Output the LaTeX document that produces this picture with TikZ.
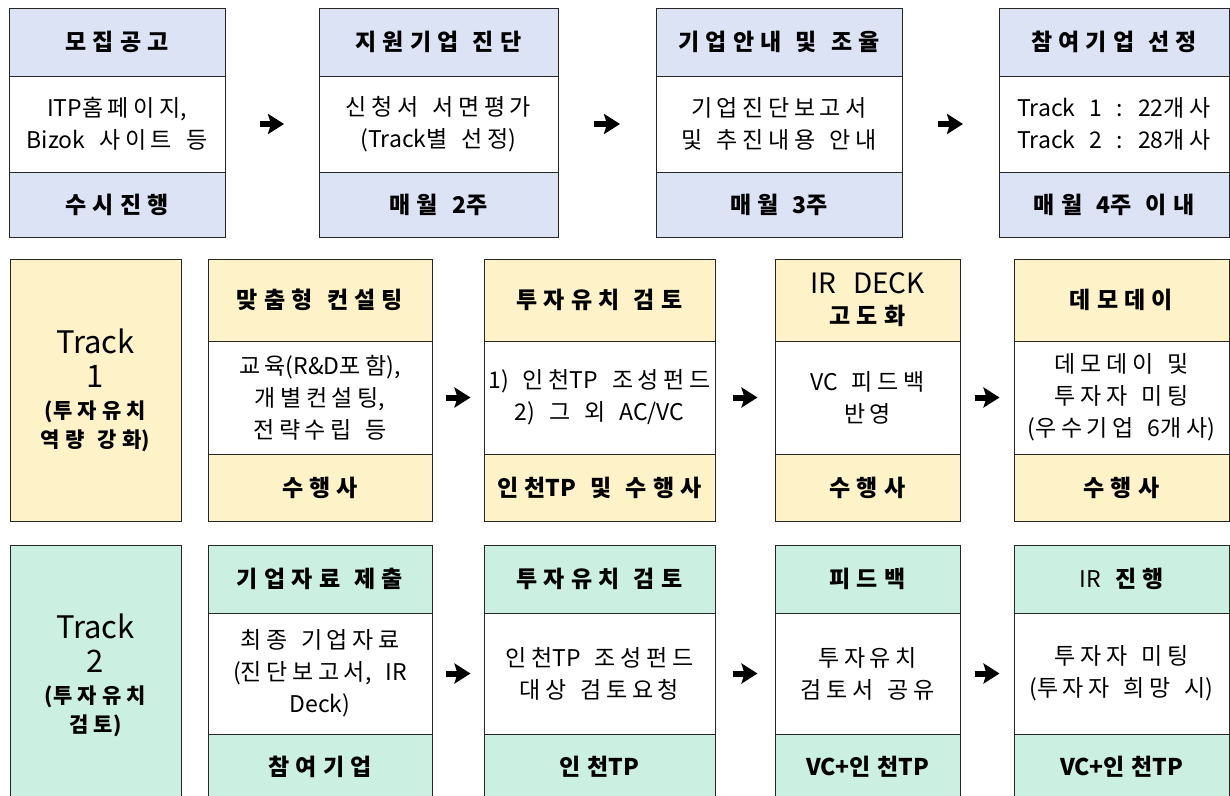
\documentclass[tikz,border=0pt]{standalone}
\usepackage{fontspec}
\setmainfont{Noto Sans CJK KR}[WordSpace=2.7]
% 한글 글자 사이 간격
\newXeTeXintercharclass\hangulclass
\newcount\hcode
\hcode="AC00
\loop
  \XeTeXcharclass\hcode=\hangulclass
  \ifnum\hcode<"D7A3 \advance\hcode by 1
\repeat
\newcommand{\hangulgap}{0.2em}
\XeTeXinterchartoks\hangulclass\hangulclass={\kern\hangulgap}
\XeTeXinterchartokenstate=1
\usepackage{tikz}
\usetikzlibrary{arrows.meta,positioning}
\usepackage{xcolor}
\definecolor{planblue}{HTML}{DCE3F5}
\definecolor{trackone}{HTML}{FEF2C9}
\definecolor{tracktwo}{HTML}{CBEFE0}

\begin{document}
\begin{tikzpicture}[x=1pt, y=-1pt,
    cell/.style={rectangle, draw=black!85, line width=0.9pt, inner sep=0pt, outer sep=0pt, align=center, font=\fontsize{23}{32}\selectfont},
    head/.style={cell, fill=#1, font=\renewcommand{\hangulgap}{0.27em}\bfseries\fontsize{23}{31}\selectfont},
    body/.style={cell, fill=white},
    track/.style={cell, fill=#1, font=\renewcommand{\hangulgap}{0.25em}\fontsize{31}{34}\selectfont},
    flow/.style={-{Stealth[length=16pt, width=20pt, inset=3pt]}, line width=6pt, shorten <=#1, shorten >=#1},
]
    \useasboundingbox (0, 0) rectangle (1230, 795);

    % 1단계: 모집 ~ 선정
    \node[head=planblue, minimum width=216pt, minimum height=68pt] (p1h) at (117, 42) {모집공고};
    \node[body, minimum width=216pt, minimum height=96pt, below=0pt of p1h] (p1b) {ITP홈페이지,\\Bizok 사이트 등};
    \node[head=planblue, minimum width=216pt, minimum height=65pt, below=0pt of p1b] (p1f) {수시진행};

    \node[head=planblue, minimum width=239pt, minimum height=68pt] (p2h) at (438.5, 42) {지원기업 진단};
    \node[body, minimum width=239pt, minimum height=96pt, below=0pt of p2h] (p2b) {신청서 서면평가\\(Track별 선정)};
    \node[head=planblue, minimum width=239pt, minimum height=65pt, below=0pt of p2b] (p2f) {매월 2주};

    \node[head=planblue, minimum width=246pt, minimum height=68pt] (p3h) at (779, 42) {기업안내 및 조율};
    \node[body, minimum width=246pt, minimum height=96pt, below=0pt of p3h] (p3b) {기업진단보고서\\및 추진내용 안내};
    \node[head=planblue, minimum width=246pt, minimum height=65pt, below=0pt of p3b] (p3f) {매월 3주};

    \node[head=planblue, minimum width=230pt, minimum height=68pt] (p4h) at (1114, 42) {참여기업 선정};
    \node[body, minimum width=230pt, minimum height=96pt, below=0pt of p4h] (p4b) {Track 1 : 22개사\\Track 2 : 28개사};
    \node[head=planblue, minimum width=230pt, minimum height=65pt, below=0pt of p4b] (p4f) {매월 4주 이내};

    \draw[flow=35pt] (p1b) -- (p2b);
    \draw[flow=36pt] (p2b) -- (p3b);
    \draw[flow=36pt] (p3b) -- (p4b);

    % Track 1
    \node[track=trackone, minimum width=171pt, minimum height=262pt] (t1) at (95.5, 390) {Track\\1\\[-3pt]{\bfseries\fontsize{21}{28}\selectfont (투자유치}\\[-5pt]{\bfseries\fontsize{21}{28}\selectfont 역량 강화)}};

    \node[head=trackone, minimum width=224pt, minimum height=82pt] (a1h) at (320, 300) {맞춤형 컨설팅};
    \node[body, minimum width=224pt, minimum height=113pt, below=0pt of a1h] (a1b) {교육(R\&D포함),\\개별컨설팅,\\전략수립 등};
    \node[head=trackone, minimum width=224pt, minimum height=67pt, below=0pt of a1b] (a1f) {수행사};

    \node[head=trackone, minimum width=231pt, minimum height=82pt] (a2h) at (599.5, 300) {투자유치 검토};
    \node[body, minimum width=231pt, minimum height=113pt, below=0pt of a2h] (a2b) {1) 인천TP 조성펀드\\2) 그 외 AC/VC};
    \node[head=trackone, minimum width=231pt, minimum height=67pt, below=0pt of a2b] (a2f) {인천TP 및 수행사};

    \node[head=trackone, minimum width=185pt, minimum height=82pt] (a3h) at (867.5, 300) {{\mdseries\fontsize{28}{30}\selectfont IR DECK}\\고도화};
    \node[body, minimum width=185pt, minimum height=113pt, below=0pt of a3h] (a3b) {VC 피드백\\반영};
    \node[head=trackone, minimum width=185pt, minimum height=67pt, below=0pt of a3b] (a3f) {수행사};

    \node[head=trackone, minimum width=215pt, minimum height=82pt] (a4h) at (1121.5, 300) {데모데이};
    \node[body, minimum width=215pt, minimum height=113pt, below=0pt of a4h] (a4b) {데모데이 및\\투자자 미팅\\(우수기업 6개사)};
    \node[head=trackone, minimum width=215pt, minimum height=67pt, below=0pt of a4b] (a4f) {수행사};

    \draw[flow=13.5pt] (a1b) -- (a2b);
    \draw[flow=17.5pt] (a2b) -- (a3b);
    \draw[flow=14.5pt] (a3b) -- (a4b);

    % Track 2
    \node[track=tracktwo, minimum width=171pt, minimum height=260pt] (t2) at (95.5, 675) {Track\\2\\[-3pt]{\bfseries\fontsize{21}{28}\selectfont (투자유치}\\[-5pt]{\bfseries\fontsize{21}{28}\selectfont 검토)}};

    \node[head=tracktwo, minimum width=224pt, minimum height=68pt] (b1h) at (320, 579) {기업자료 제출};
    \node[body, minimum width=224pt, minimum height=121pt, below=0pt of b1h] (b1b) {최종 기업자료\\(진단보고서, IR\\Deck)};
    \node[head=tracktwo, minimum width=224pt, minimum height=66pt, below=0pt of b1b] (b1f) {참여기업};

    \node[head=tracktwo, minimum width=231pt, minimum height=68pt] (b2h) at (599.5, 579) {투자유치 검토};
    \node[body, minimum width=231pt, minimum height=121pt, below=0pt of b2h] (b2b) {인천TP 조성펀드\\대상 검토요청};
    \node[head=tracktwo, minimum width=231pt, minimum height=66pt, below=0pt of b2b] (b2f) {인천TP};

    \node[head=tracktwo, minimum width=185pt, minimum height=68pt] (b3h) at (867.5, 579) {피드백};
    \node[body, minimum width=185pt, minimum height=121pt, below=0pt of b3h] (b3b) {투자유치\\검토서 공유};
    \node[head=tracktwo, minimum width=185pt, minimum height=66pt, below=0pt of b3b] (b3f) {VC+인천TP};

    \node[head=tracktwo, minimum width=215pt, minimum height=68pt] (b4h) at (1121.5, 579) {{\mdseries IR} 진행};
    \node[body, minimum width=215pt, minimum height=121pt, below=0pt of b4h] (b4b) {투자자 미팅\\(투자자 희망 시)};
    \node[head=tracktwo, minimum width=215pt, minimum height=66pt, below=0pt of b4b] (b4f) {VC+인천TP};

    \draw[flow=13.5pt] (b1b) -- (b2b);
    \draw[flow=17.5pt] (b2b) -- (b3b);
    \draw[flow=14.5pt] (b3b) -- (b4b);
\end{tikzpicture}
\end{document}
